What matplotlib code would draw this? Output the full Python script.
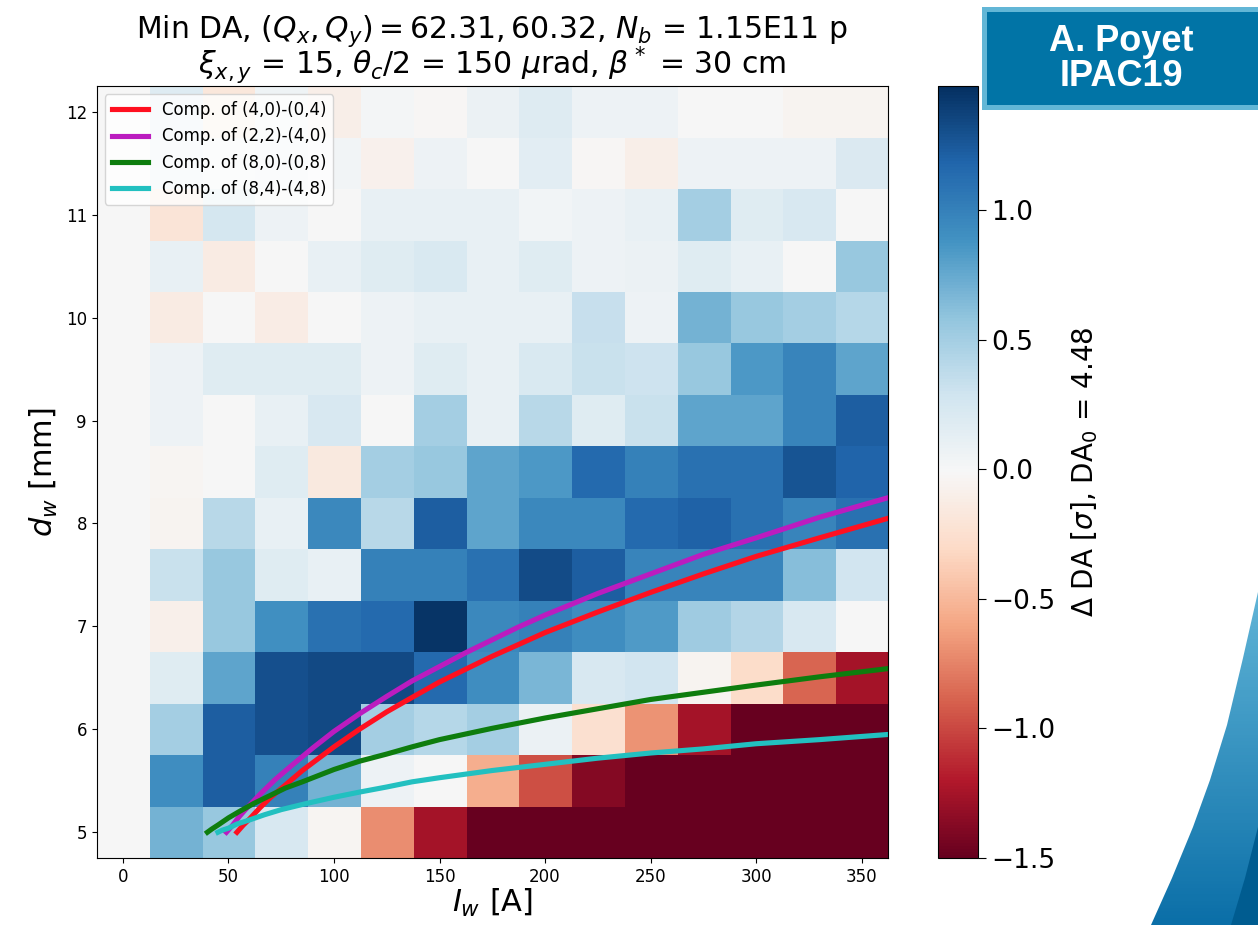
import numpy as np
import matplotlib.pyplot as plt
from matplotlib.patches import Rectangle, Polygon
from matplotlib.colors import LinearSegmentedColormap

# wire current [A] and wire distance [mm] (cell centres)
I_w = [0, 25, 50, 75, 100, 125, 150, 175, 200, 225, 250, 275, 300, 325, 350]
d_w = [5.0, 5.5, 6.0, 6.5, 7.0, 7.5, 8.0, 8.5, 9.0, 9.5, 10.0, 10.5, 11.0, 11.5, 12.0]

# Delta DA [sigma], one row per d_w (bottom to top)
dDA = [
    [0, 0.70, 0.55, 0.23, -0.04, -0.70, -1.25, -1.5, -1.5, -1.5, -1.5, -1.5, -1.5, -1.5, -1.5],
    [0, 0.92, 1.22, 1.00, 0.70, 0.06, 0.00, -0.55, -0.97, -1.38, -1.5, -1.5, -1.5, -1.5, -1.5],
    [0, 0.50, 1.22, 1.30, 1.33, 0.50, 0.42, 0.50, 0.08, -0.25, -0.68, -1.25, -1.5, -1.5, -1.5],
    [0, 0.17, 0.77, 1.30, 1.33, 1.33, 1.15, 0.92, 0.67, 0.23, 0.27, -0.05, -0.28, -0.88, -1.25],
    [0, -0.08, 0.55, 0.90, 1.10, 1.15, 1.45, 0.95, 1.00, 0.92, 0.83, 0.52, 0.43, 0.23, 0.00],
    [0, 0.32, 0.55, 0.17, 0.10, 1.00, 1.00, 1.10, 1.32, 1.22, 0.97, 0.97, 0.97, 0.62, 0.27],
    [0, -0.05, 0.40, 0.10, 0.95, 0.40, 1.22, 0.77, 0.95, 0.95, 1.15, 1.20, 1.10, 0.97, 1.10],
    [0, -0.04, 0.00, 0.17, -0.15, 0.50, 0.55, 0.77, 0.85, 1.15, 1.00, 1.10, 1.10, 1.28, 1.18],
    [0, 0.06, 0.00, 0.10, 0.23, 0.00, 0.50, 0.10, 0.40, 0.17, 0.32, 0.77, 0.77, 0.97, 1.22],
    [0, 0.06, 0.17, 0.17, 0.17, 0.06, 0.17, 0.10, 0.22, 0.32, 0.30, 0.55, 0.85, 0.97, 0.78],
    [0, -0.13, 0.00, -0.12, 0.00, 0.06, 0.10, 0.10, 0.10, 0.33, 0.06, 0.70, 0.55, 0.50, 0.42],
    [0, 0.10, -0.13, 0.00, 0.10, 0.17, 0.22, 0.10, 0.17, 0.06, 0.08, 0.17, 0.10, 0.00, 0.55],
    [0, -0.20, 0.25, 0.06, 0.00, 0.10, 0.10, 0.10, 0.03, 0.07, 0.10, 0.50, 0.17, 0.23, 0.00],
    [0, 0.12, 0.05, 0.10, 0.03, -0.07, 0.07, 0.00, 0.15, -0.03, -0.10, 0.07, 0.07, 0.07, 0.20],
    [0, 0.18, -0.18, 0.05, -0.10, 0.02, -0.03, 0.08, 0.18, 0.07, 0.07, 0.00, 0.00, -0.05, -0.05],
]

# compensation curves (I_w, d_w)
red_I = [54, 57, 60, 65, 70, 77, 85, 100, 112, 125, 137, 150, 162, 175, 187, 200,
         225, 250, 275, 300, 330, 362.5]
red_d = [5.00, 5.07, 5.13, 5.24, 5.34, 5.46, 5.60, 5.83, 6.00, 6.17, 6.31, 6.46, 6.58, 6.71, 6.82, 6.94,
         7.14, 7.33, 7.51, 7.68, 7.86, 8.05]
mag_I = [49, 52, 55, 58, 65, 72, 80, 90, 100, 112, 125, 137, 150, 162, 175, 187, 200,
         225, 250, 275, 300, 330, 362.5]
mag_d = [5.00, 5.07, 5.15, 5.22, 5.37, 5.51, 5.65, 5.82, 5.98, 6.15, 6.32, 6.47, 6.61, 6.74, 6.87, 6.99, 7.11,
         7.32, 7.51, 7.70, 7.86, 8.06, 8.25]
grn_I = [40, 42, 45, 50, 55, 62, 70, 77, 85, 100, 112, 125, 137, 150, 175, 200,
         225, 250, 275, 300, 330, 362.5]
grn_d = [5.00, 5.03, 5.07, 5.14, 5.20, 5.28, 5.36, 5.43, 5.49, 5.61, 5.69, 5.76, 5.83, 5.90, 6.01, 6.11,
         6.20, 6.29, 6.36, 6.43, 6.51, 6.59]
cya_I = [45, 47, 50, 54, 60, 67, 75, 87, 100, 112, 125, 137, 150, 175, 200,
         225, 250, 275, 300, 330, 362.5]
cya_d = [5.00, 5.02, 5.04, 5.08, 5.12, 5.17, 5.22, 5.28, 5.34, 5.39, 5.44, 5.49, 5.53, 5.60, 5.66,
         5.72, 5.77, 5.81, 5.86, 5.90, 5.95]

W, H = 1258, 925
fig = plt.figure(figsize=(W / 100, H / 100), dpi=100)
ax = fig.add_axes([96.6 / W, 1 - 858 / H, (888 - 96.6) / W, (858 - 86) / H])
cax = fig.add_axes([938 / W, 1 - 858 / H, 40 / W, (858 - 86) / H])

dx = (I_w[1] - I_w[0]) / 2
dy = (d_w[1] - d_w[0]) / 2
im = ax.imshow(np.array(dDA), origin='lower', cmap='RdBu', vmin=-1.5, vmax=1.48,
               extent=[I_w[0] - dx, I_w[-1] + dx, d_w[0] - dy, d_w[-1] + dy],
               aspect='auto', interpolation='nearest')

ax.plot(red_I, red_d, color='#ff1020', lw=3.7, label='Comp. of (4,0)-(0,4)')
ax.plot(mag_I, mag_d, color='#bb1cbf', lw=3.7, label='Comp. of (2,2)-(4,0)')
ax.plot(grn_I, grn_d, color='#0e7d0e', lw=3.7, label='Comp. of (8,0)-(0,8)')
ax.plot(cya_I, cya_d, color='#22c0c0', lw=3.7, label='Comp. of (8,4)-(4,8)')
ax.legend(loc='upper left', fontsize=12, handlelength=2.2)

ax.set_xlim(I_w[0] - dx, I_w[-1] + dx)
ax.set_ylim(d_w[0] - dy, d_w[-1] + dy)
ax.tick_params(labelsize=12)
ax.set_xlabel('$I_w$ [A]', fontsize=22, labelpad=1)
ax.set_ylabel('$d_w$ [mm]', fontsize=22)
ax.set_title('Min DA, $(Q_x, Q_y) = 62.31, 60.32$, $N_b$ = 1.15E11 p\n'
             r'$\xi_{x,y}$ = 15, $\theta_c/2$ = 150 $\mu$rad, $\beta^*$ = 30 cm',
             fontsize=21.5, pad=5, linespacing=0.85)

cb = fig.colorbar(im, cax=cax)
cb.ax.tick_params(labelsize=19, length=6)
cb.set_label(r'$\Delta$ DA [$\sigma$], DA$_0$ = 4.48', fontsize=20, labelpad=10)

# author badge
fig.patches.append(Rectangle((982 / W, 1 - 110 / H), 290 / W, 103 / H, transform=fig.transFigure,
                             facecolor='#62b6d6', edgecolor='none'))
fig.patches.append(Rectangle((987 / W, 1 - 105 / H), 290 / W, 93 / H, transform=fig.transFigure,
                             facecolor='#0174a6', edgecolor='none'))
fig.text(1121 / W, 1 - 59 / H, 'A. Poyet\nIPAC19', color='white', fontsize=26, fontweight='bold',
         family='Liberation Sans', ha='center', va='center', linespacing=1.0)

# slide decoration bottom right
deco = fig.add_axes([1135 / W, 0, 123 / W, 340 / H])
deco.set_xlim(1135, 1258)
deco.set_ylim(925, 585)
deco.axis('off')
grad_cmap = LinearSegmentedColormap.from_list('swoosh', ['#62b6d8', '#0b6fa8'])
grad = deco.imshow(np.linspace(0, 1, 100)[:, None], extent=[1135, 1258, 925, 585],
                   cmap=grad_cmap, aspect='auto')
shape = Polygon([(1258, 592), (1243, 658), (1227, 725), (1210, 780), (1193, 827),
                 (1172, 878), (1151, 925), (1258, 925)], transform=deco.transData)
grad.set_clip_path(shape)
deco.add_patch(Polygon([(1258, 827), (1245, 878), (1231, 925), (1258, 925)],
                       facecolor='#005c90', edgecolor='none'))

fig.savefig('out.png', dpi=100)
